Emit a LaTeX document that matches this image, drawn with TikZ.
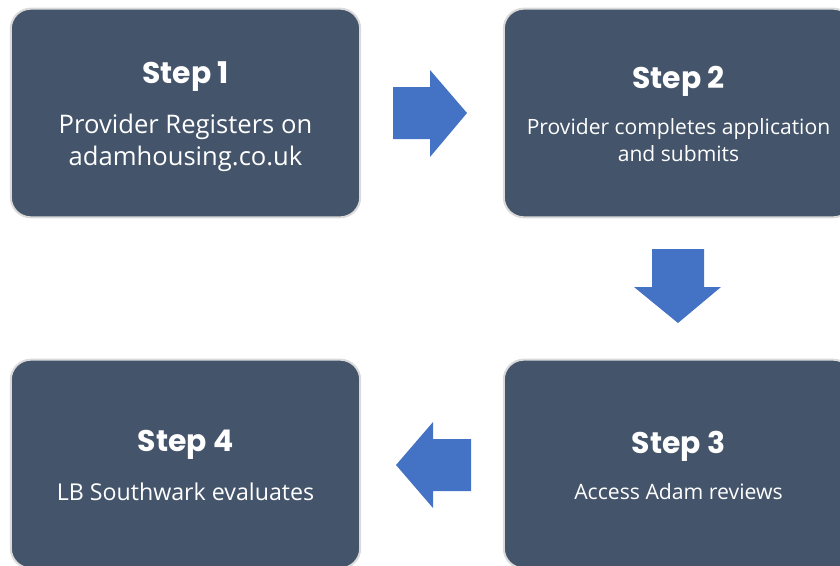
\documentclass[tikz,border=0pt]{standalone}
\usepackage{fontspec}
\setmainfont{Open Sans}
\newfontfamily\stepfont{Poppins}
\definecolor{boxfill}{HTML}{44546A}
\definecolor{boxline}{HTML}{DADADA}
\definecolor{arrowfill}{HTML}{4472C4}
\tikzset{
  stepbox/.style={rectangle, rounded corners=15pt, fill=boxfill, draw=boxline, line width=1.5pt, minimum width=262pt, minimum height=156.5pt},
  steptitle/.style={text=white, font=\stepfont\bfseries\fontsize{22.4}{26}\selectfont},
  steptext/.style={text=white, align=center},
  blockarrow/.style={fill=arrowfill},
}
\begin{document}
\begin{tikzpicture}[x=0.75pt, y=-0.75pt]
\useasboundingbox (0,0) rectangle (840,565);
\clip (0,0) rectangle (840,565);
% the four steps
\node[stepbox] (box1) at (185.5,113){};
\node[stepbox] (box2) at (678.5,113){};
\node[stepbox] (box3) at (678.5,464){};
\node[stepbox] (box4) at (185.5,464){};
\node[steptitle] (title1) at (185.5,77){Step 1};
\node[steptext, font=\fontsize{19.2}{24}\selectfont] (text1) at (185.5,143){Provider Registers on\\adamhousing.co.uk};
\node[steptitle] (title2) at (678.5,81){Step 2};
\node[steptext, font=\fontsize{15.8}{20.5}\selectfont] (text2) at (678.5,140){Provider completes application\\and submits};
\node[steptitle] (title3) at (678.5,446){Step 3};
\node[steptext, font=\fontsize{15.9}{20}\selectfont] (text3) at (678.5,492){Access Adam reviews};
\node[steptitle] (title4) at (185.5,445){Step 4};
\node[steptext, font=\fontsize{17.4}{20}\selectfont] (text4) at (185.5,492){LB Southwark evaluates};
% arrows between the steps
\fill[blockarrow] (393,87) -- (430,87) -- (430,70) -- (467,113) -- (430,157) -- (430,139) -- (393,139) -- cycle;
\fill[blockarrow] (652,249) -- (704,249) -- (704,287) -- (721,287) -- (678,323) -- (634,287) -- (652,287) -- cycle;
\fill[blockarrow] (471,439) -- (433,439) -- (433,422) -- (396,465) -- (433,508) -- (433,491) -- (471,491) -- cycle;
\end{tikzpicture}
\end{document}
